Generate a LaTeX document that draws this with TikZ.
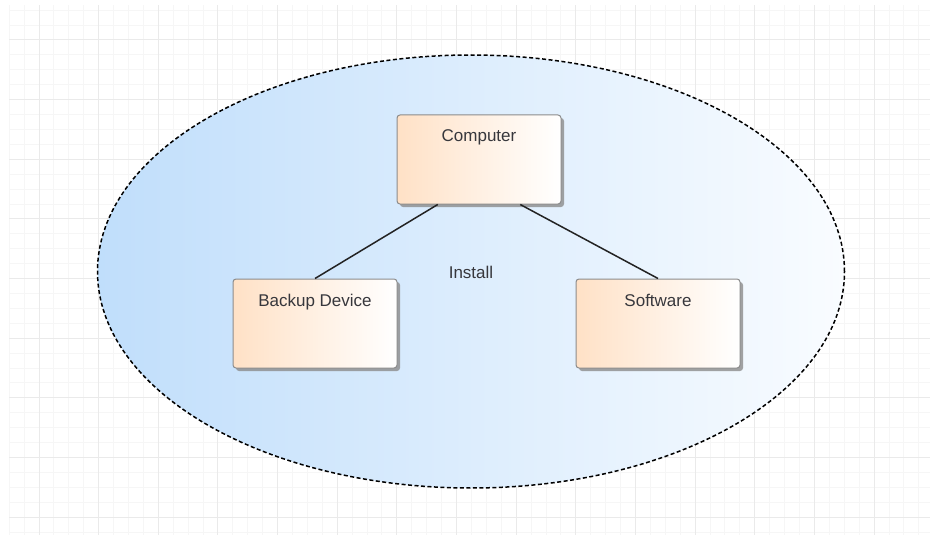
\documentclass[tikz,border=0pt]{standalone}
\usepackage{fontspec}
\setmainfont{Liberation Sans}
\usetikzlibrary{shapes.geometric,shadows,calc}
\definecolor{gridminor}{RGB}{246,246,246}
\definecolor{gridmajor}{RGB}{234,234,234}
\definecolor{ellleft}{RGB}{192,222,251}
\definecolor{ellright}{RGB}{249,252,255}
\definecolor{peach}{RGB}{255,225,198}
\definecolor{boxborder}{RGB}{140,140,140}
\definecolor{txt}{RGB}{55,55,60}
\definecolor{conncol}{RGB}{35,35,35}
\tikzset{
  boxnode/.style={draw=boxborder, line width=1pt, rounded corners=3pt,
    left color=peach, right color=white,
    minimum width=164pt, minimum height=89pt, inner xsep=2pt, inner ysep=0pt,
    text height=27pt, text depth=62pt, text=txt,
    font=\fontsize{17}{20}\selectfont,
    drop shadow={shadow xshift=3pt, shadow yshift=-3pt, fill=black!45, opacity=0.8}},
  groupnode/.style={ellipse, draw=black, line width=1.5pt, dash pattern=on 4pt off 2.5pt,
    left color=ellleft, right color=ellright,
    minimum width=747pt, minimum height=433pt, inner sep=0pt},
  conn/.style={draw=conncol, line width=1.5pt},
  labeltext/.style={text=txt, font=\fontsize{17}{20}\selectfont, inner sep=0pt}
}
\begin{document}
\begin{tikzpicture}[x=1pt,y=-1pt]
\useasboundingbox (0,0) rectangle (930,535);
\fill[white] (0,0) rectangle (930,535);
\begin{scope}
\clip (9,6) rectangle (930,535);
\foreach \i in {-2,...,61} {
  \pgfmathsetmacro\xx{39+14.9125*\i}
  \draw[gridminor, line width=1pt] (\xx,0) -- (\xx,535);
}
\foreach \j in {-3,...,35} {
  \pgfmathsetmacro\yy{40+14.9125*\j}
  \draw[gridminor, line width=1pt] (0,\yy) -- (930,\yy);
}
\foreach \i in {-1,...,15} {
  \pgfmathsetmacro\xx{39+59.65*\i}
  \draw[gridmajor, line width=1pt] (\xx,0) -- (\xx,535);
}
\foreach \j in {-1,...,9} {
  \pgfmathsetmacro\yy{40+59.65*\j}
  \draw[gridmajor, line width=1pt] (0,\yy) -- (930,\yy);
}
\end{scope}
\node[groupnode] (group) at (471,271.5) {};
\node[boxnode] (comp) at (479,159.5) {Computer};
\node[boxnode] (backup) at (315,323.5) {Backup Device};
\node[boxnode] (soft) at (658,323.5) {Software};
\node[labeltext] (install) at (471,272) {Install};
\draw[conn] ($(comp.south west)!0.25!(comp.south east)$) -- (backup.north);
\draw[conn] ($(comp.south west)!0.75!(comp.south east)$) -- (soft.north);
\end{tikzpicture}
\end{document}
